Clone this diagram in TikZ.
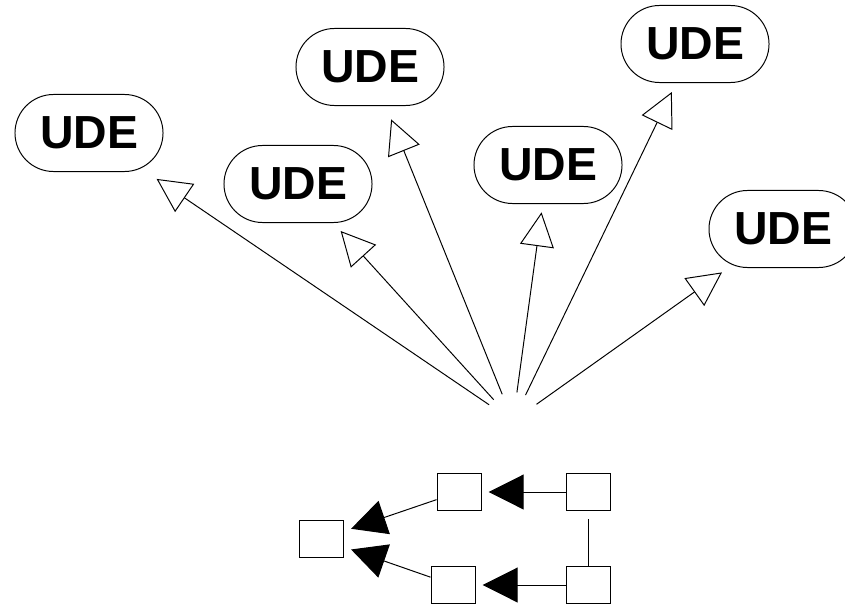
\documentclass[tikz,border=0pt]{standalone}
\usepackage{fontspec}
\setmainfont{Liberation Sans}
\usepackage{tikz}
\usetikzlibrary{arrows.meta, shapes.misc}

\begin{document}
\begin{tikzpicture}[x=0.025cm, y=-0.025cm, line width=0.7pt,
  ude/.style={draw, rounded rectangle, minimum width=3.7cm, minimum height=1.925cm, inner sep=0pt, font=\fontsize{33}{36}\selectfont\bfseries},
  box/.style={draw, minimum width=1.1cm, minimum height=0.93cm, inner sep=0pt},
  fan/.style={-{Triangle[open, length=0.85cm, width=0.85cm]}, shorten <=0.72cm},
  flow/.style={-{Triangle[length=0.875cm, width=0.875cm]}, shorten >=0.2cm}]
\useasboundingbox (0,0) rectangle (845,610);
\node[ude] (ude1) at (89,133) {UDE};
\node[ude] (ude2) at (298,184) {UDE};
\node[ude] (ude3) at (370,67) {UDE};
\node[ude] (ude4) at (548,165) {UDE};
\node[ude] (ude5) at (695,44) {UDE};
\node[ude] (ude6) at (783,229) {UDE};
\coordinate (src) at (513,421);
\draw[fan, shorten >=0.47cm] (src) -- (ude1);
\draw[fan, shorten >=0.27cm] (src) -- (ude2);
\draw[fan, shorten >=0.36cm] (src) -- (ude3);
\draw[fan, shorten >=0.21cm] (src) -- (ude4);
\draw[fan, shorten >=0.25cm] (src) -- (ude5);
\draw[fan, shorten >=0.32cm] (src) -- (ude6);
\node[box] (a) at (321,539) {};
\node[box] (b) at (459,492) {};
\node[box] (c) at (588,492) {};
\node[box] (d) at (453,585) {};
\node[box] (e) at (588,585) {};
\draw[flow] (b) -- (a);
\draw[flow] (d) -- (a);
\draw[flow, shorten >=0.18cm] (c) -- (b);
\draw[flow, shorten >=0.18cm] (e) -- (d);
\draw[shorten <=0.2cm] (c) -- (e);
\end{tikzpicture}
\end{document}
